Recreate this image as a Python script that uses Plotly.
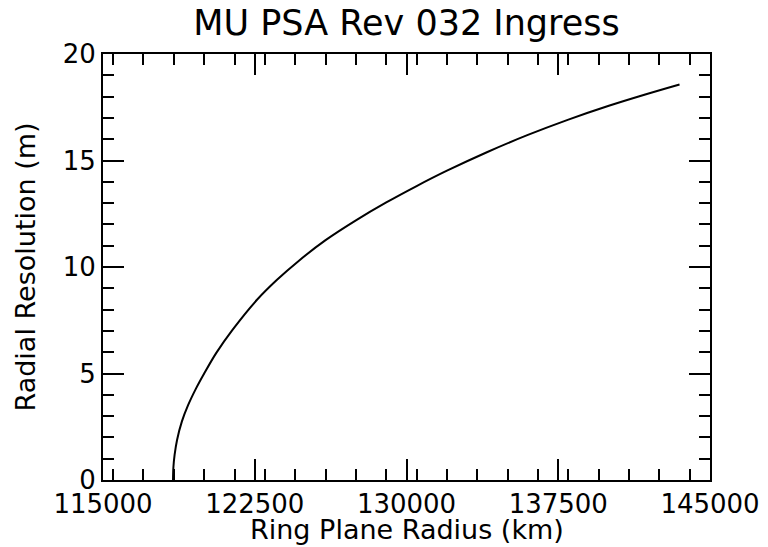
import plotly.graph_objects as go

# Radial resolution profile vs ring plane radius (Rev 032 ingress)
radius_km = [118460, 118480, 118540, 118660, 118900, 119200, 119600, 120000,
             120600, 121400, 122600, 123600, 124700, 126000, 127500, 129000,
             130500, 132000, 134000, 136000, 138000, 140000, 141800, 143494]
resolution_m = [0.0, 0.6, 1.19, 1.88, 2.75, 3.5, 4.3, 5.0,
                5.97, 7.05, 8.45, 9.4, 10.31, 11.26, 12.19, 13.03,
                13.8, 14.52, 15.4, 16.2, 16.92, 17.57, 18.1, 18.57]

x_ticks = [115000, 122500, 130000, 137500, 145000]
y_ticks = [0, 5, 10, 15, 20]

FONT = "DejaVu Sans"

fig = go.Figure()
fig.add_trace(go.Scatter(
    x=radius_km, y=resolution_m, mode="lines",
    line=dict(color="black", width=2, shape="spline", smoothing=1.0),
    showlegend=False, hoverinfo="x+y",
))

axis_common = dict(
    showgrid=False, zeroline=False, automargin=False,
    showline=True, linecolor="black", linewidth=2,
    mirror="ticks", ticks="inside", ticklen=21, tickwidth=2, tickcolor="black",
    tickfont=dict(family=FONT, size=26, color="black"),
)

fig.update_xaxes(
    range=[115000, 145000], tickvals=x_ticks,
    ticktext=[str(v) for v in x_ticks],
    minor=dict(dtick=1500, ticks="inside", ticklen=11, tickwidth=2, tickcolor="black"),
    **axis_common,
)
fig.update_yaxes(
    range=[0, 20], tickvals=y_ticks,
    ticktext=[str(v) for v in y_ticks],
    minor=dict(dtick=1, ticks="inside", ticklen=11, tickwidth=2, tickcolor="black"),
    title=dict(text="Radial Resolution (m)", font=dict(family=FONT, size=27, color="black"),
               standoff=19),
    **axis_common,
)

# x-axis label placed as a paper-anchored annotation below the tick labels
fig.add_annotation(
    text="Ring Plane Radius (km)", xref="paper", yref="paper",
    x=0.5, y=(480 - 530) / 426.5, xanchor="center", yanchor="middle",
    showarrow=False, font=dict(family=FONT, size=27, color="black"),
)

fig.update_layout(
    width=768, height=547,
    margin=dict(l=102.5, r=57.5, t=53.5, b=67, autoexpand=False),
    paper_bgcolor="white", plot_bgcolor="white",
    title=dict(text="MU PSA Rev 032 Ingress", x=0.5, xref="paper",
               y=1 - 10 / 547, yref="container", yanchor="top",
               font=dict(family=FONT, size=35, color="black")),
)

fig.write_html("out.html")
